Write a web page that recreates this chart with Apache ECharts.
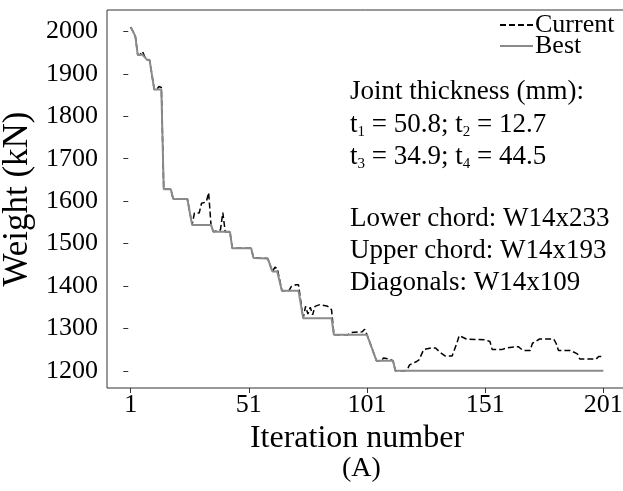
<!DOCTYPE html>
<html>
<head>
<meta charset="utf-8">
<script src="https://cdn.jsdelivr.net/npm/echarts@6/dist/echarts.min.js"></script>
<style>
  html, body { margin: 0; padding: 0; background: #fff; }
  #chart { width: 623px; height: 491px; }
</style>
</head>
<body>
<div id="chart"></div>
<script>
// values
var xTicks = [1, 51, 101, 151, 201]
var yTicks = [1200, 1300, 1400, 1500, 1600, 1700, 1800, 1900, 2000]

var currentIter = [1, 2, 3, 4, 5, 6, 7, 8, 9, 11, 12, 13, 14, 15, 18, 19, 25, 27, 28, 30, 31, 33, 34, 35, 36, 39, 40, 41, 43, 44, 52, 53, 59, 61, 62, 63, 65, 68, 69, 71, 72, 74, 75, 76, 77, 78, 79, 81, 84, 85, 86, 87, 93, 94, 99, 100, 101, 105, 107, 108, 110, 112, 113, 117, 118, 119, 122, 123, 125, 128, 130, 132, 134, 137, 139, 140, 143, 151, 153, 154, 158, 160, 165, 167, 170, 171, 174, 180, 181, 182, 187, 190, 191, 198, 199, 201]
var currentWeight = [2010, 2000, 1988, 1945, 1945, 1953, 1940, 1933, 1933, 1863, 1863, 1870, 1868, 1628, 1628, 1605, 1605, 1544, 1572, 1572, 1595, 1598, 1620, 1544, 1528, 1532, 1573, 1528, 1528, 1489, 1489, 1466, 1465, 1434, 1444, 1442, 1389, 1389, 1399, 1403, 1403, 1324, 1352, 1334, 1350, 1332, 1352, 1356, 1353, 1350, 1344, 1285, 1285, 1290, 1292, 1298, 1285, 1224, 1224, 1230, 1228, 1224, 1200, 1200, 1202, 1214, 1222, 1226, 1250, 1254, 1254, 1243, 1235, 1235, 1265, 1283, 1275, 1273, 1269, 1250, 1250, 1254, 1257, 1248, 1248, 1265, 1275, 1275, 1265, 1248, 1248, 1240, 1228, 1228, 1234, 1234]

var bestIter = [1, 2, 3, 4, 6, 8, 9, 11, 14, 15, 18, 19, 25, 27, 35, 36, 43, 44, 52, 53, 59, 61, 63, 65, 72, 74, 86, 87, 101, 105, 112, 113, 201]
var bestWeight = [2010, 2000, 1988, 1945, 1945, 1933, 1933, 1863, 1863, 1628, 1628, 1605, 1605, 1544, 1544, 1528, 1528, 1489, 1489, 1466, 1465, 1434, 1434, 1389, 1389, 1324, 1324, 1285, 1285, 1224, 1224, 1200, 1200]

var noteLines = [
  '{n|Joint thickness (mm):}',
  '{n|t}{s|1}{n| = 50.8; t}{s|2}{n| = 12.7}',
  '{n|t}{s|3}{n| = 34.9; t}{s|4}{n| = 44.5}',
  '{n|Lower chord: W14x233}',
  '{n|Upper chord: W14x193}',
  '{n|Diagonals: W14x109}'
]
var noteY = [93, 126, 158, 220, 252, 284]

var serif = '"Liberation Serif", "DejaVu Serif", serif'

function zip(xs, ys) {
  return xs.map(function (x, i) { return [x, ys[i]] })
}

var chart = echarts.init(document.getElementById('chart'), null, { renderer: 'canvas' })

var graphics = noteLines.map(function (t, i) {
  return {
    type: 'text',
    left: 350,
    top: noteY[i] - 15,
    style: {
      text: t,
      rich: {
        n: { fontFamily: serif, fontSize: 27, lineHeight: 30, fill: '#000' },
        s: { fontFamily: serif, fontSize: 15, lineHeight: 12, verticalAlign: 'bottom', fill: '#000' }
      }
    }
  }
})
graphics.push({
  type: 'text',
  left: 342,
  top: 455,
  style: { text: '(A)', fontFamily: serif, fontSize: 28, fill: '#000' }
})

chart.setOption({
  animation: false,
  backgroundColor: '#fff',
  grid: {
    left: 107,
    right: -4,
    top: 10,
    bottom: 103,
    outerBoundsMode: 'none',
    containLabel: false,
    show: true,
    borderColor: '#333',
    borderWidth: 1
  },
  legend: {
    orient: 'vertical',
    left: 494,
    top: 7,
    itemWidth: 33,
    itemHeight: 10,
    itemGap: -5,
    data: ['Current', 'Best'],
    itemStyle: { opacity: 0 },
    textStyle: { fontFamily: serif, fontSize: 26, lineHeight: 21, color: '#000', padding: [0, 0, 0, -3] }
  },
  xAxis: {
    type: 'value',
    min: -9,
    max: 211,
    name: 'Iteration number',
    nameLocation: 'middle',
    nameGap: 33,
    nameTextStyle: { fontFamily: serif, fontSize: 32, color: '#000', padding: [0, 20, 0, 0] },
    axisLine: { show: false },
    axisTick: { show: true, length: 5, customValues: xTicks, lineStyle: { color: '#333' } },
    axisLabel: { customValues: xTicks, margin: 4, fontFamily: serif, fontSize: 26, color: '#000' },
    splitLine: { show: false }
  },
  yAxis: {
    type: 'value',
    min: 1159.5,
    max: 2050.5,
    name: 'Weight (kN)',
    nameLocation: 'middle',
    nameGap: 58,
    nameTextStyle: { fontFamily: serif, fontSize: 35, color: '#000' },
    axisLine: { show: false },
    axisTick: { show: true, length: 5, customValues: yTicks, lineStyle: { color: '#333' } },
    axisLabel: {
      customValues: yTicks,
      margin: 9,
      fontFamily: serif,
      fontSize: 26,
      color: '#000',
      formatter: function (v) { return String(v) }
    },
    splitLine: { show: false }
  },
  series: [
    {
      name: 'Current',
      type: 'line',
      symbol: 'none',
      data: zip(currentIter, currentWeight),
      lineStyle: { color: '#000', width: 1.5, type: [6, 3] },
      itemStyle: { color: '#000' }
    },
    {
      name: 'Best',
      type: 'line',
      symbol: 'none',
      data: zip(bestIter, bestWeight),
      lineStyle: { color: '#8a8a8a', width: 2 },
      itemStyle: { color: '#8a8a8a' }
    }
  ],
  graphic: graphics
})
</script>
</body>
</html>
